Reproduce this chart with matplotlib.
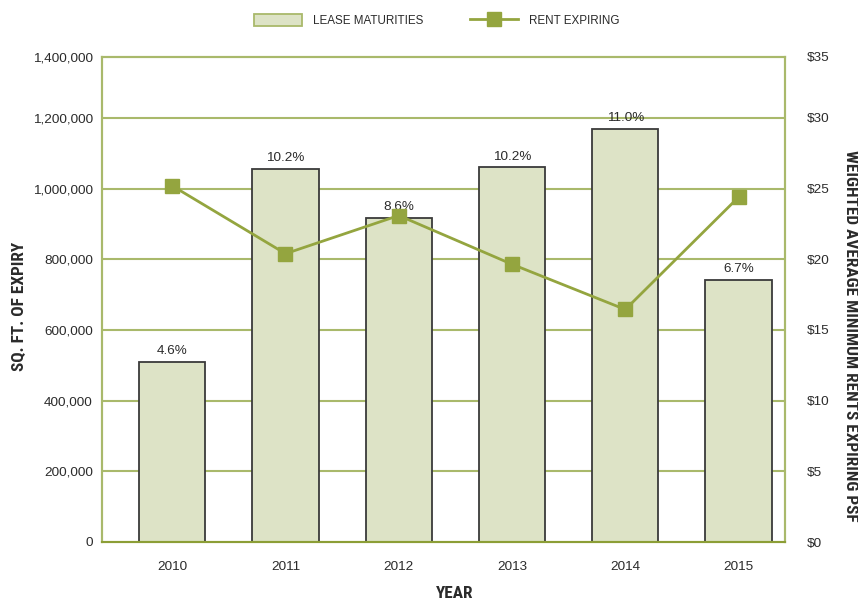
import matplotlib.pyplot as plt
from matplotlib import font_manager

years = ['2010', '2011', '2012', '2013', '2014', '2015']
sq_ft = [509000, 1055000, 916000, 1060000, 1170000, 741000]
pct_labels = ['4.6%', '10.2%', '8.6%', '10.2%', '11.0%', '6.7%']
rent = [25.2, 20.4, 23.1, 19.65, 16.45, 24.4]

left_ticks = [0, 200000, 400000, 600000, 800000, 1000000, 1200000]
right_ticks = [0, 5, 10, 15, 20, 25, 30]

bar_fill = '#dde3c6'
bar_edge = '#3a3a3a'
olive = '#94a53f'
grid_col = '#a9b96b'
txt = '#2b2b2b'

plt.rcParams['font.family'] = ['Liberation Sans', 'DejaVu Sans']
names = set(f.name for f in font_manager.fontManager.ttflist)
cond = 'Liberation Sans'
for n in ['Roboto Condensed', 'Open Sans Condensed', 'Liberation Sans Narrow',
          'DejaVu Sans Condensed', 'Noto Sans Condensed']:
    if n in names:
        cond = n
        break

fig = plt.figure(figsize=(8.58, 6.04), dpi=100)
ax = fig.add_axes([102 / 858, 1 - 542 / 604, 683 / 858, 485 / 604])
ax2 = ax.twinx()

x = list(range(len(years)))
# the frame top sits a bit below 1,400,000 in the original
ytop = 1372600
rtop = ytop / 40000.0

ax.set_ylim(0, ytop)
ax2.set_ylim(0, rtop)
ax.set_xlim(-0.62, 5.41)

for v in left_ticks[1:]:
    ax.axhline(v, color=grid_col, lw=1.5, zorder=0)

ax.bar(x, sq_ft, width=0.585, color=bar_fill, edgecolor=bar_edge,
       linewidth=1.3, zorder=2, label='LEASE MATURITIES')
for xi, v, lab in zip(x, sq_ft, pct_labels):
    ax.text(xi, v + 14000, lab, ha='center', va='bottom', fontsize=9.7, color=txt)

ax2.plot(x, rent, color=olive, lw=2, marker='s', markersize=10,
         markerfacecolor=olive, markeredgecolor=olive, zorder=3,
         label='RENT EXPIRING')

ax.set_zorder(1)
ax2.set_zorder(2)
ax.patch.set_visible(False)

ax.set_yticks(left_ticks + [ytop])
ax.set_yticklabels(['{:,}'.format(v) for v in left_ticks] + ['1,400,000'])
ax2.set_yticks(right_ticks + [rtop])
ax2.set_yticklabels(['${}'.format(v) for v in right_ticks] + ['$35'])
ax.set_xticks(x)
ax.set_xticklabels(years)

ax.tick_params(axis='y', length=0, pad=6.5, labelsize=9.7, labelcolor=txt)
ax2.tick_params(axis='y', length=0, pad=16, labelsize=9.7, labelcolor=txt)
ax.tick_params(axis='x', length=0, pad=13.5, labelsize=9.7, labelcolor=txt)

for a in (ax, ax2):
    for s in ('left', 'right', 'top'):
        a.spines[s].set_color(grid_col)
        a.spines[s].set_linewidth(1.5)
    a.spines['bottom'].set_color('#8c9e36')
    a.spines['bottom'].set_linewidth(1.5)

# axis titles: condensed bold in the original; size the long one to its span
lab_kw = dict(fontweight='bold', color=txt, family=cond, ha='center', va='center')
t_left = fig.text(20 / 858, 1 - 306 / 604, 'SQ. FT. OF EXPIRY', rotation=90,
                  fontsize=12, **lab_kw)
t_right = fig.text(851 / 858, 1 - 336 / 604,
                   'WEIGHTED AVERAGE MINIMUM RENTS EXPIRING PSF', rotation=270,
                   fontsize=12, **lab_kw)
t_year = fig.text(455 / 858, 1 - 593 / 604, 'YEAR', fontsize=12, **lab_kw)

fig.canvas.draw()
r = fig.canvas.get_renderer()
fs = min(12 * 372 / t_right.get_window_extent(r).height, 16)
for t in (t_left, t_right, t_year):
    t.set_fontsize(fs)

h1, l1 = ax.get_legend_handles_labels()
h2, l2 = ax2.get_legend_handles_labels()
leg = fig.legend(h1 + h2, l1 + l2, loc='center', bbox_to_anchor=(0.509, 0.966),
                 ncol=2, frameon=False, fontsize=8.4, handlelength=4.1,
                 handleheight=1.2, columnspacing=3.95, handletextpad=0.95,
                 labelcolor=txt)
leg.legend_handles[0].set_edgecolor(grid_col)

fig.savefig('out.png', dpi=100)
